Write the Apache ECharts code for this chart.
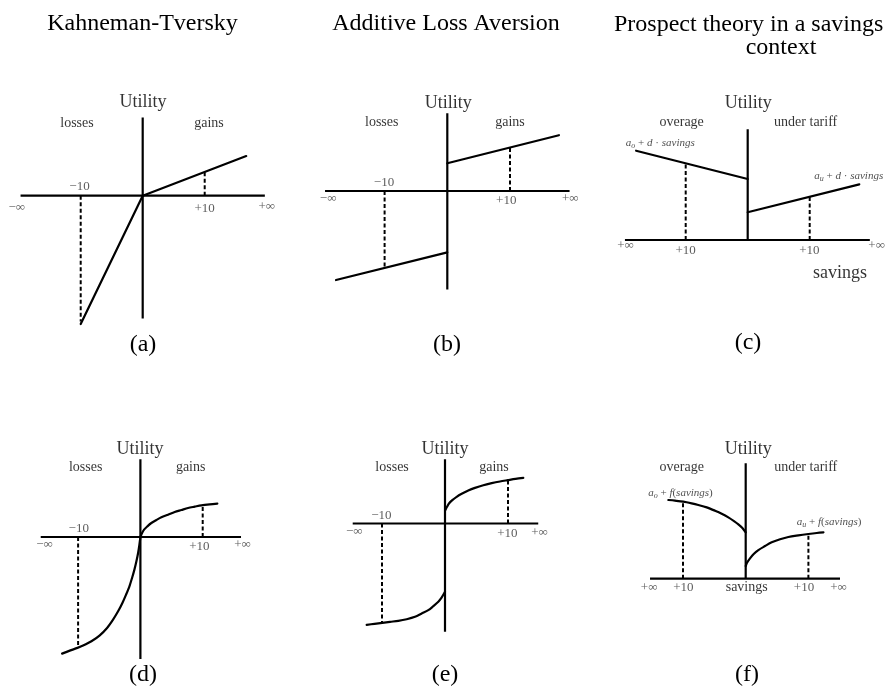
<!DOCTYPE html>
<html>
<head>
<meta charset="utf-8">
<script src="https://cdn.jsdelivr.net/npm/echarts@6/dist/echarts.min.js"></script>
<style>html,body{margin:0;padding:0;background:#fff}#c{width:888px;height:688px}</style>
</head>
<body>
<div id="c"></div>
<script>
// ---------- text ----------
const titles = ['Kahneman-Tversky', 'Additive Loss Aversion', 'Prospect theory in a savings', 'context'];
const panelTags = ['(a)', '(b)', '(c)', '(d)', '(e)', '(f)'];
const yName = 'Utility';
const regionNamesPM = ['losses', 'gains'];
const regionNamesSav = ['overage', 'under tariff'];
const tickLabelsPM = ['\u2212\u221e', '\u221210', '+10', '+\u221e'];
const tickLabelsSav = ['+\u221e', '+10', '+10', '+\u221e'];
const xNameSavings = 'savings';
const mathLin = ['{i|a}{sb|o}{n| + }{i|d}{n| \u00b7 }{i|savings}', '{i|a}{sb|u}{n| + }{i|d}{n| \u00b7 }{i|savings}'];
const mathCurve = ['{i|a}{sb|o}{n| + }{i|f}{n|(}{i|savings}{n|)}', '{i|a}{sb|u}{n| + }{i|f}{n|(}{i|savings}{n|)}'];

// ---------- axis extents (x range, y range) per panel ----------
const axisX = [[-19.7, 19.7], [-19.5, 19.5], [-19.8, 19.7], [-16.0, 16.15], [-14.65, 14.8], [-15.26, 15.04]];
const axisY = [[-19.8, 12.6], [-15.7, 12.4], [0, 17.85], [-19.6, 12.5], [-17.2, 10.2], [0, 18.4]];

// ---------- (a) Kahneman-Tversky, linear ----------
const aGains = [[0, 0], [16.7, 6.4]];
const aLosses = [[0, 0], [-10, -20.7]];
const aDashGain = [[10, 0], [10, 3.9]];
const aDashLoss = [[-10, 0], [-10, -20.3]];

// ---------- (b) Additive loss aversion, linear ----------
const bGains = [[0, 4.42], [17.8, 8.9]];
const bLosses = [[0, -9.78], [-17.75, -14.2]];
const bDashGain = [[10, 0], [10, 6.9]];
const bDashLoss = [[-10, 0], [-10, -12.1]];

// ---------- (c) savings context, linear ----------
const cOverage = [[-18, 14.4], [0, 9.84]];
const cUnder = [[0, 4.47], [18, 8.98]];
const cDashOver = [[-10, 0], [-10, 12.37]];
const cDashUnder = [[10, 0], [10, 6.98]];

// ---------- (d) Kahneman-Tversky, curved ----------
const dLosses = [[0, 0], [-0.16, -1.23], [-0.37, -2.57], [-0.64, -3.9], [-0.96, -5.24], [-1.34, -6.58],
  [-1.76, -7.91], [-2.3, -9.25], [-2.89, -10.59], [-3.58, -11.93], [-4.39, -13.26], [-5.35, -14.6],
  [-6.52, -15.78], [-7.86, -16.74], [-9.2, -17.43], [-10.1, -17.8], [-11.34, -18.24], [-12.57, -18.72]];
const dGains = [[0, 0], [0.27, 0.64], [0.59, 1.18], [1.12, 1.71], [1.76, 2.25], [2.57, 2.73], [3.37, 3.16],
  [4.44, 3.58], [5.51, 4.01], [6.58, 4.33], [7.65, 4.65], [8.72, 4.87], [9.79, 5.08], [11.12, 5.24], [12.35, 5.35]];
const dDashGain = [[10, 0], [10, 5.1]];
const dDashLoss = [[-10, 0], [-10, -17.8]];

// ---------- (e) Additive loss aversion, curved ----------
const eGains = [[0, 2.0], [0.32, 2.65], [0.63, 3.17], [1.16, 3.7], [1.85, 4.23], [2.65, 4.71], [3.7, 5.24],
  [4.76, 5.66], [6.08, 6.08], [7.41, 6.4], [8.73, 6.67], [9.95, 6.88], [11.2, 7.09], [12.43, 7.25]];
const eLosses = [[0, -10.85], [-0.32, -11.38], [-0.63, -11.9], [-1.06, -12.43], [-1.85, -13.12], [-2.65, -13.76],
  [-3.7, -14.29], [-4.76, -14.81], [-6.08, -15.19], [-7.41, -15.45], [-8.73, -15.61], [-9.95, -15.77],
  [-11.2, -15.93], [-12.43, -16.08]];
const eDashGain = [[10, 0], [10, 6.88]];
const eDashLoss = [[-10, 0], [-10, -15.77]];

// ---------- (f) savings context, curved ----------
const fOverage = [[-12.34, 12.55], [-11.28, 12.45], [-9.95, 12.29], [-8.62, 12.02], [-7.55, 11.76], [-6.22, 11.38],
  [-4.89, 10.85], [-3.83, 10.37], [-2.77, 9.79], [-1.81, 9.15], [-1.17, 8.67], [-0.53, 8.09], [0, 7.4]];
const fUnder = [[0, 2.02], [0.21, 2.55], [0.69, 3.24], [1.28, 3.94], [2.02, 4.57], [3.09, 5.21], [4.15, 5.8],
  [5.48, 6.28], [6.8, 6.65], [8.4, 6.91], [10, 7.13], [11.33, 7.29], [12.4, 7.39]];
const fDashOver = [[-10, 0], [-10, 12.29]];
const fDashUnder = [[10, 0], [10, 7.13]];

// ---------- layout (pixel origin, px per unit, view range) ----------
const FONT = '"Liberation Serif", "Times New Roman", serif';
const panels = [
  {ox: 142.7, oy: 195.7, s: 6.2,  xv: [-22, 22], yv: [-22, 17]},
  {ox: 447.3, oy: 191.0, s: 6.27, xv: [-22, 22], yv: [-17, 16]},
  {ox: 747.7, oy: 240.0, s: 6.2,  xv: [-22, 22], yv: [-7, 24]},
  {ox: 140.4, oy: 537.0, s: 6.23, xv: [-20, 20], yv: [-21, 16]},
  {ox: 445.0, oy: 523.5, s: 6.3,  xv: [-20, 20], yv: [-18, 14]},
  {ox: 745.7, oy: 578.7, s: 6.27, xv: [-20, 20], yv: [-3, 23]}
];

const STY = {
  big:  {fontSize: 18, color: '#000'},
  mid:  {fontSize: 14, color: '#000'},
  tick: {fontSize: 13, color: '#333'},
  math: {fontSize: 11, color: '#222'}
};
const RICH = {
  i:  {fontFamily: FONT, fontStyle: 'italic', fontSize: 11, color: '#222'},
  n:  {fontFamily: FONT, fontSize: 11, color: '#222'},
  sb: {fontFamily: FONT, fontStyle: 'italic', fontSize: 8, color: '#222', padding: [6, 0, 0, 0]}
};

// label placements [text, x, y, style] in data units of each panel
const labelSets = [
  [[yName, 0.05, 15.0, 'big'], [regionNamesPM[0], -10.6, 11.7, 'mid'], [regionNamesPM[1], 10.7, 11.7, 'mid'],
   [tickLabelsPM[0], -20.3, -1.93, 'tick'], [tickLabelsPM[1], -10.2, 1.45, 'tick'],
   [tickLabelsPM[2], 10.0, -2.15, 'tick'], [tickLabelsPM[3], 20.0, -1.77, 'tick']],
  [[yName, 0.16, 14.0, 'big'], [regionNamesPM[0], -10.46, 10.9, 'mid'], [regionNamesPM[1], 10.0, 10.9, 'mid'],
   [tickLabelsPM[0], -19.0, -1.28, 'tick'], [tickLabelsPM[1], -10.1, 1.28, 'tick'],
   [tickLabelsPM[2], 9.4, -1.6, 'tick'], [tickLabelsPM[3], 19.6, -1.17, 'tick']],
  [[yName, 0.1, 22.05, 'big'], [regionNamesSav[0], -10.65, 18.9, 'mid'], [regionNamesSav[1], 9.35, 18.9, 'mid'],
   [tickLabelsSav[0], -19.7, -0.85, 'tick'], [tickLabelsSav[1], -10.0, -1.72, 'tick'],
   [tickLabelsSav[2], 9.94, -1.72, 'tick'], [tickLabelsSav[3], 20.8, -0.85, 'tick'],
   [xNameSavings, 14.9, -5.4, 'big'], [mathLin[0], -14.1, 15.7, 'math'], [mathLin[1], 16.3, 10.3, 'math']],
  [[yName, -0.06, 14.08, 'big'], [regionNamesPM[0], -8.78, 11.12, 'mid'], [regionNamesPM[1], 8.07, 11.12, 'mid'],
   [tickLabelsPM[0], -15.4, -1.18, 'tick'], [tickLabelsPM[1], -9.9, 1.4, 'tick'],
   [tickLabelsPM[2], 9.46, -1.55, 'tick'], [tickLabelsPM[3], 16.4, -1.18, 'tick']],
  [[yName, 0, 11.78, 'big'], [regionNamesPM[0], -8.4, 8.86, 'mid'], [regionNamesPM[1], 7.78, 8.86, 'mid'],
   [tickLabelsPM[0], -14.4, -1.3, 'tick'], [tickLabelsPM[1], -10.1, 1.24, 'tick'],
   [tickLabelsPM[2], 9.9, -1.67, 'tick'], [tickLabelsPM[3], 15.0, -1.46, 'tick']],
  [[yName, 0.4, 20.6, 'big'], [regionNamesSav[0], -10.2, 17.7, 'mid'], [regionNamesSav[1], 9.57, 17.7, 'mid'],
   [tickLabelsSav[0], -15.4, -1.37, 'tick'], [tickLabelsSav[1], -9.95, -1.37, 'tick'],
   [xNameSavings, 0.16, -1.45, 'mid'],
   [tickLabelsSav[2], 9.3, -1.37, 'tick'], [tickLabelsSav[3], 14.8, -1.37, 'tick'],
   [mathCurve[0], -10.4, 13.7, 'math'], [mathCurve[1], 13.3, 9.1, 'math']]
];

const solidSets = [
  [aGains, aLosses], [bGains, bLosses], [cOverage, cUnder],
  [dGains, dLosses], [eGains, eLosses], [fOverage, fUnder]
];
const dashSets = [
  [aDashGain, aDashLoss], [bDashGain, bDashLoss], [cDashOver, cDashUnder],
  [dDashGain, dDashLoss], [eDashGain, eDashLoss], [fDashOver, fDashUnder]
];

const grid = [], xAxis = [], yAxis = [], series = [];
panels.forEach((p, i) => {
  grid.push({
    left: p.ox + p.xv[0] * p.s,
    top: p.oy - p.yv[1] * p.s,
    width: (p.xv[1] - p.xv[0]) * p.s,
    height: (p.yv[1] - p.yv[0]) * p.s,
    containLabel: false
  });
  xAxis.push({type: 'value', gridIndex: i, min: p.xv[0], max: p.xv[1], show: false});
  yAxis.push({type: 'value', gridIndex: i, min: p.yv[0], max: p.yv[1], show: false});

  const base = {type: 'line', xAxisIndex: i, yAxisIndex: i, symbol: 'none', showSymbol: false,
    silent: true, clip: false, animation: false};
  // axes
  series.push(Object.assign({}, base, {data: [[axisX[i][0], 0], [axisX[i][1], 0]],
    lineStyle: {color: '#000', width: 2.2}}));
  series.push(Object.assign({}, base, {data: [[0, axisY[i][0]], [0, axisY[i][1]]],
    lineStyle: {color: '#000', width: 2.2}}));
  // utility curves
  solidSets[i].forEach(d => {
    series.push(Object.assign({}, base, {data: d, smooth: d.length > 2 ? 0.3 : false,
      lineStyle: {color: '#000', width: 2.2, cap: 'round', join: 'round'}, z: 3}));
  });
  // dashed reference lines
  dashSets[i].forEach(d => {
    series.push(Object.assign({}, base, {data: d,
      lineStyle: {color: '#000', width: 2, type: [4, 2.5]}, z: 2}));
  });
  // labels
  series.push({
    type: 'scatter', xAxisIndex: i, yAxisIndex: i, symbolSize: 1, silent: true, clip: false,
    animation: false, itemStyle: {color: 'rgba(0,0,0,0)'}, z: 5,
    label: {show: true, position: 'inside', fontFamily: FONT, rich: RICH},
    data: labelSets[i].map(l => ({
      value: [l[1], l[2]],
      label: Object.assign({formatter: l[0], fontFamily: FONT}, STY[l[3]])
    }))
  });
});

const textEl = (t, x, y, align) => ({
  type: 'text', x: x, y: y, silent: true,
  style: {text: t, fontFamily: FONT, fontSize: 24, fill: '#000', align: align || 'center', verticalAlign: 'middle'}
});
const graphic = [
  textEl(titles[0], 142.5, 24), textEl(titles[1], 446, 24),
  textEl(titles[2], 614, 25, 'left'), textEl(titles[3], 781, 48),
  textEl(panelTags[0], 143, 345), textEl(panelTags[1], 447, 345), textEl(panelTags[2], 748, 343),
  textEl(panelTags[3], 143, 675), textEl(panelTags[4], 445, 675), textEl(panelTags[5], 747, 675)
];

const chart = echarts.init(document.getElementById('c'), null, {renderer: 'canvas'});
chart.setOption({backgroundColor: '#fff', animation: false, grid, xAxis, yAxis, series, graphic});
</script>
</body>
</html>
